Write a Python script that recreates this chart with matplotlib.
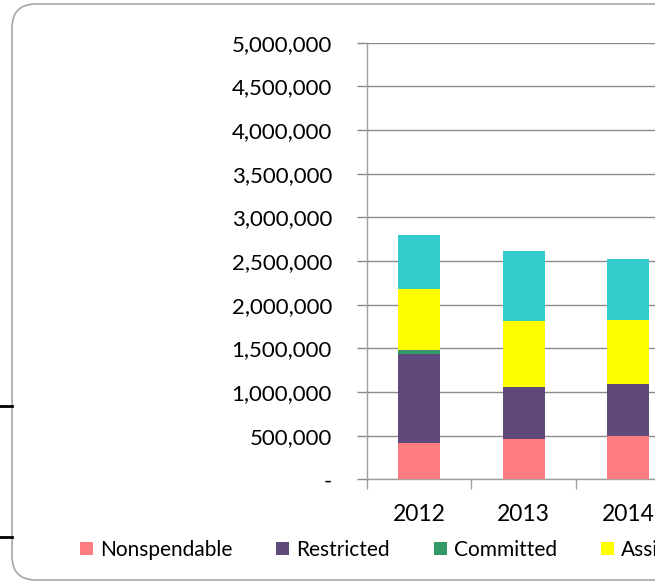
import matplotlib
matplotlib.use('Agg')
import matplotlib.pyplot as plt
from matplotlib.patches import FancyBboxPatch
from matplotlib.lines import Line2D
from matplotlib.ticker import FuncFormatter, FixedLocator
from matplotlib.transforms import IdentityTransform
import numpy as np

years = ['2012', '2013', '2014']
series_names = ['Nonspendable', 'Restricted', 'Committed', 'Assigned', 'Unassigned']
nonspendable = [412000, 458000, 493000]
restricted = [1027000, 603000, 599000]
committed = [39000, 0, 0]
assigned = [702000, 756000, 729000]
unassigned = [615000, 802000, 703000]
colors = ['#FF7C80', '#604A7B', '#339966', '#FFFF00', '#33CCCC']

plt.rcParams['font.family'] = ['Lato', 'DejaVu Sans']

W, H = 655, 584
fig = plt.figure(figsize=(W / 100, H / 100), dpi=100)

# frame of the chart area (rounded, runs off the right edge)
box = FancyBboxPatch((12, 4), 900, 576, boxstyle='round,pad=0,rounding_size=24',
                     transform=IdentityTransform(), facecolor='none',
                     edgecolor='#A6A6A6', linewidth=1.2, zorder=-1)
fig.patches.append(box)
for yy in [406, 537]:
    fig.lines.append(Line2D([0, 12], [H - yy, H - yy], transform=IdentityTransform(),
                            color='black', linewidth=2))

cat_w = 104.6
ax = fig.add_axes([366.7 / W, (H - 479.3) / H, 3 * cat_w / W, (479.3 - 42.8) / H])
ax.set_facecolor('none')

x = np.arange(len(years))
bottom = np.zeros(len(years))
handles = []
for name, vals, c in zip(series_names,
                         [nonspendable, restricted, committed, assigned, unassigned], colors):
    b = ax.bar(x, vals, width=0.4, bottom=bottom, color=c, label=name, zorder=3)
    handles.append(b)
    bottom += np.array(vals)

ax.set_xlim(-0.5, 2.5)
ax.set_ylim(0, 5000000)
ax.set_yticks(np.arange(0, 5000001, 500000))
ax.yaxis.set_major_formatter(FuncFormatter(lambda v, p: '-' if v == 0 else f'{int(v):,}'))
ax.grid(axis='y', color='#8C8C8C', linewidth=1, zorder=0)
ax.set_axisbelow(True)

ax.set_xticks(x)
ax.set_xticklabels(years)
ax.xaxis.set_minor_locator(FixedLocator([-0.5, 0.5, 1.5, 2.5]))
ax.tick_params(axis='x', which='major', length=0, pad=18, labelsize=16.5)
ax.tick_params(axis='x', which='minor', length=7, color='#A0A0A0', width=1)
ax.tick_params(axis='y', length=7, color='#8C8C8C', width=1, pad=18, labelsize=16)

for s in ['top', 'right']:
    ax.spines[s].set_visible(False)
for s in ['left', 'bottom']:
    ax.spines[s].set_color('#A0A0A0')
    ax.spines[s].set_linewidth(1)

fs = 15
fpx = fs * 100 / 72
fig.legend(handles=handles, labels=series_names, loc='center left',
           bbox_to_anchor=(80 / W, 1 - 550 / H), ncol=5, frameon=False,
           fontsize=fs, borderpad=0, borderaxespad=0,
           handlelength=13 / fpx, handleheight=13 / fpx,
           handletextpad=7 / fpx, columnspacing=44 / fpx)

fig.savefig('out.png', dpi=100)
